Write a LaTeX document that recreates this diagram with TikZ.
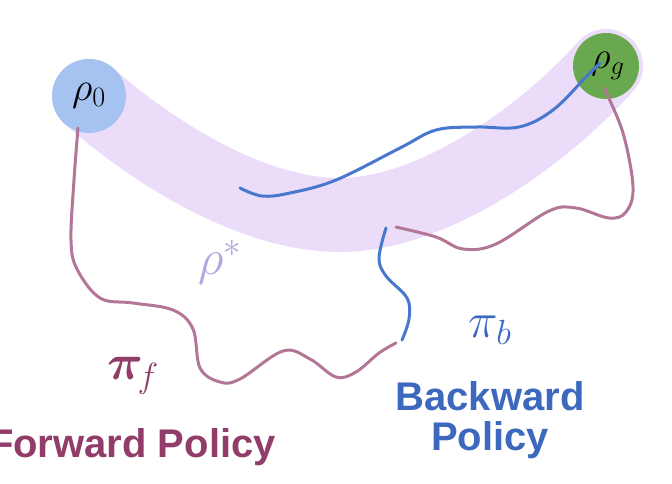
\documentclass[tikz,border=0pt]{standalone}
\usepackage{fix-cm}
\usepackage{fontspec}
\usepackage{amsmath}
\newfontfamily\lsans{Liberation Sans}
\definecolor{bandc}{RGB}{235,221,250}
\definecolor{startc}{RGB}{165,194,240}
\definecolor{goalc}{RGB}{106,168,79}
\definecolor{fwdline}{RGB}{178,118,150}
\definecolor{bwdline}{RGB}{72,120,205}
\definecolor{fwdtext}{RGB}{145,60,105}
\definecolor{bwdtext}{RGB}{60,105,190}
\definecolor{startxt}{RGB}{182,165,222}
\begin{document}
\begin{tikzpicture}[x=1pt,y=-1pt,
  state/.style={circle,inner sep=0pt,minimum size=#1},
  fwd/.style={draw=fwdline,line width=3pt,line cap=round},
  bwd/.style={draw=bwdline,line width=3pt,line cap=round},
  policy/.style={font=\lsans\bfseries\fontsize{40}{42}\selectfont,align=center,inner sep=0pt}]
\useasboundingbox (0,0) rectangle (672,483);
% optimal band
\draw[bandc,line width=74pt,line cap=round]
  (89,96) .. controls (150,150) and (250,215) .. (340,215)
          .. controls (430,215) and (540,140) .. (606,66);
% states
\node[state=74pt,fill=startc] (r0) at (89,96) {};
\node[state=66pt,fill=goalc] (rg) at (606,66) {};
\node at (r0) {\fontsize{40}{40}\selectfont$\rho_0$};
\node at ([xshift=2pt]rg) {\fontsize{38}{38}\selectfont$\rho_g$};
% free ends
\coordinate (b1s) at (240,188);
\coordinate (rgin) at (600,63);
\coordinate (b2s) at (386,228);
\coordinate (b2e) at (402,340);
\coordinate (r0out) at (78,128);
\coordinate (f1e) at (396,343);
\coordinate (f2s) at (396,227);
\coordinate (rgout) at (604,88);
% backward trajectories
\draw[bwd] plot[smooth,tension=0.6] coordinates
  {(b1s) (262,196) (290,193) (336,180) (400,148) (436,130) (476,127) (519,127) (553,110) (586,77) (rgin)};
\draw[bwd] plot[smooth,tension=0.6] coordinates
  {(b2s) (379,258) (386,276) (407,298) (409,319) (b2e)};
% forward trajectories
\draw[fwd] plot[smooth,tension=0.6] coordinates
  {(r0out) (74,180) (71,240) (77,269) (100,298) (133,303) (173,310) (193,329) (200,368) (220,382) (240,379) (283,351) (310,359) (336,377) (356,372) (379,353) (f1e)};
\draw[fwd] plot[smooth,tension=0.6] coordinates
  {(f2s) (436,237) (463,249) (496,244) (549,211) (576,208) (609,218) (626,212) (633,187) (623,133) (rgout)};
% labels
\node[text=startxt] (rs) at (220,262) {\fontsize{50}{50}\selectfont$\rho^*$};
\node[text=fwdtext] (pf) at (133,376) {\fontsize{50}{50}\selectfont$\boldsymbol{\pi}_{\!f}$};
\node[text=bwdtext] (pb) at (490,330) {\fontsize{50}{50}\selectfont$\pi_b$};
\node[policy,text=fwdtext,anchor=east] (fp) at (276,447) {Forward Policy};
\node[policy,text=bwdtext] (bp) at (490,420) {Backward\\[-2pt]Policy};
\end{tikzpicture}
\end{document}
